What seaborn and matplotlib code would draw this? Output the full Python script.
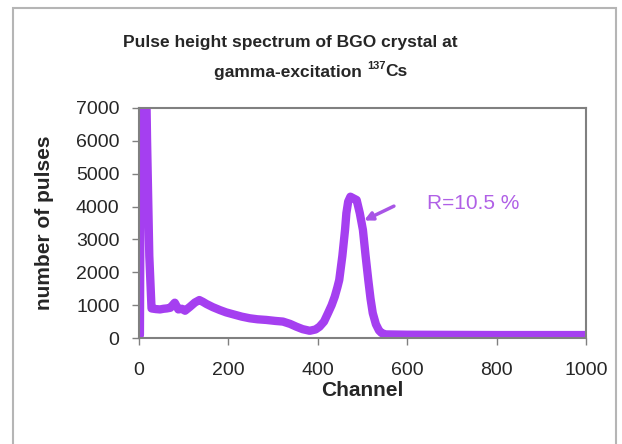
import numpy as np
import pandas as pd
import matplotlib
matplotlib.use("Agg")
import matplotlib.pyplot as plt
import seaborn as sns
from matplotlib.patches import Rectangle

# spectrum (channel, number of pulses)
channel = [0, 2, 5, 9, 13, 18, 23, 28, 38, 47, 55, 62, 70, 80, 88, 96, 103, 114, 125,
           135, 143, 151, 165, 181, 195, 211, 230, 248, 265, 285, 305, 322, 338, 352,
           366, 382, 395, 404, 414, 423, 431, 438, 444, 448, 455, 461, 464, 468, 473,
           480, 487, 494, 501, 507, 513, 518, 523, 530, 537, 543, 552, 600, 700, 800,
           900, 1000]
pulses = [0, 100, 9000, 12000, 10500, 6000, 2500, 900, 880, 870, 890, 900, 920, 1075,
          870, 890, 830, 950, 1080, 1155, 1100, 1035, 940, 850, 780, 720, 650, 600,
          570, 550, 520, 500, 430, 345, 270, 220, 260, 345, 500, 760, 1000, 1260,
          1550, 1765, 2500, 3290, 3800, 4150, 4300, 4250, 4200, 3800, 3290, 2500,
          1765, 1200, 760, 420, 230, 150, 110, 100, 95, 90, 90, 90]
x_ticks = [0, 200, 400, 600, 800, 1000]
y_ticks = [0, 1000, 2000, 3000, 4000, 5000, 6000, 7000]

df = pd.DataFrame({"Channel": channel, "pulses": pulses})

sns.set_style("white")
plt.rcParams["font.family"] = ["Liberation Sans", "DejaVu Sans"]

fig = plt.figure(figsize=(6.22, 4.44), dpi=100)
ax = fig.add_axes([0.2235, 0.2387, 0.7185, 0.5181])

sns.lineplot(data=df, x="Channel", y="pulses", sort=False, color="#a53ff0",
             linewidth=6, ax=ax, solid_capstyle="round", solid_joinstyle="round")

ax.set_xlim(0, 1000)
ax.set_ylim(0, 7000)
ax.set_xticks(x_ticks)
ax.set_yticks(y_ticks)
ax.tick_params(axis="both", direction="out", length=5, width=1, color="#808080",
               labelsize=14, bottom=True, left=True)
ax.tick_params(axis="x", pad=12)
ax.tick_params(axis="y", pad=9)
for s in ax.spines.values():
    s.set_color("#808080")
    s.set_linewidth(1.5)
ax.set_xlabel("Channel", fontsize=15, fontweight="bold", labelpad=2)
ax.set_ylabel("number of pulses", fontsize=15, fontweight="bold", labelpad=16)

# annotation with arrow
ax.annotate("", xy=(498, 3540), xytext=(576, 4050),
            arrowprops=dict(arrowstyle="-|>", color="#a855e6", lw=2.5, mutation_scale=12))
ax.text(644, 4080, "R=10.5 %", color="#b060e6", fontsize=15, va="center", ha="left")

# title, two lines with superscript
fig.text(0.466, 1 - 42 / 444, "Pulse height spectrum of BGO crystal at",
         fontsize=12.5, fontweight="bold", ha="center", va="center")
t2 = fig.text(214 / 622, 1 - 72 / 444, "gamma-excitation ", fontsize=12.5,
              fontweight="bold", ha="left", va="center")
fig.canvas.draw()
bb = t2.get_window_extent()
t3 = fig.text(bb.x1 / 622, 1 - 66 / 444, "137", fontsize=8, fontweight="bold",
              ha="left", va="center")
fig.canvas.draw()
bb3 = t3.get_window_extent()
fig.text(bb3.x1 / 622, 1 - 72 / 444, "Cs", fontsize=12.5, fontweight="bold",
         ha="left", va="center")

# outer chart frame
fig.patches.append(Rectangle((13 / 622, -0.1), 603 / 622, 1.1 - 8 / 444,
                             transform=fig.transFigure, fill=False,
                             edgecolor="#b5b5b5", linewidth=1.5))

fig.savefig("out.png", dpi=100)
